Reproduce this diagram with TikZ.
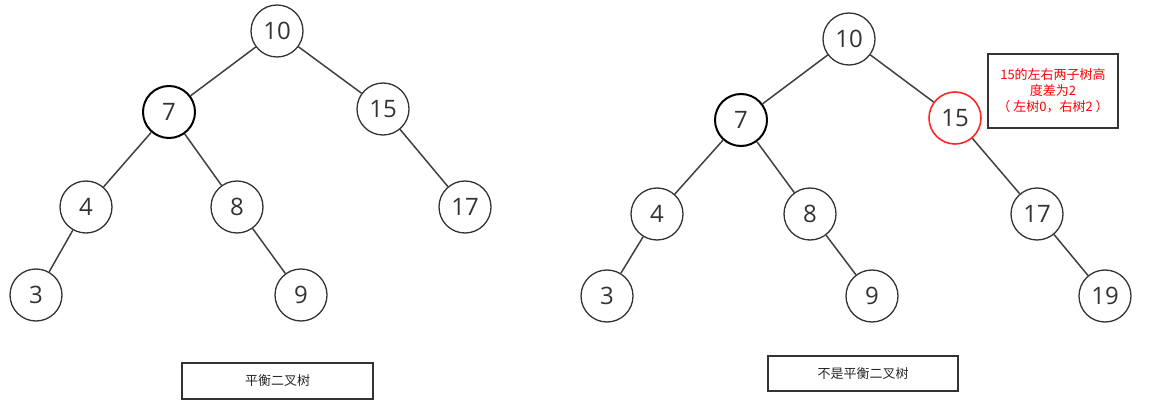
\documentclass[tikz,border=0pt]{standalone}
\usepackage{fontspec}
\setmainfont{Open Sans}
\newfontfamily\cjk{Noto Sans CJK SC}
\begin{document}
\begin{tikzpicture}[x=1pt,y=-1pt,
  nd/.style={circle,draw=black!80,line width=1.3pt,minimum size=52pt,inner sep=0pt,font=\fontsize{24}{27}\selectfont,text=black!80},
  thick nd/.style={nd,draw=black,line width=2pt},
  red nd/.style={nd,draw=red!85,line width=1.6pt},
  ed/.style={draw=black!75,line width=1.5pt},
  lbl/.style={draw=black!80,line width=1.6pt,font=\cjk\fontsize{13}{15}\selectfont,text=black!85,inner sep=0pt}]
\useasboundingbox (0,0) rectangle (1175,406);
% left tree
\node[nd] (a10) at (277,31) {10};
\node[thick nd] (a7) at (169,112) {7};
\node[nd] (a15) at (383,109) {15};
\node[nd] (a4) at (86,207) {4};
\node[nd] (a8) at (237,207) {8};
\node[nd] (a17) at (465,207) {17};
\node[nd] (a3) at (36,295) {3};
\node[nd] (a9) at (301,295) {9};
\draw[ed] (a10) -- (a7);
\draw[ed] (a10) -- (a15);
\draw[ed] (a7) -- (a4);
\draw[ed] (a7) -- (a8);
\draw[ed] (a15) -- (a17);
\draw[ed] (a4) -- (a3);
\draw[ed] (a8) -- (a9);
\node[lbl,minimum width=191pt,minimum height=36pt] (la) at (277.5,381) {平衡二叉树};
% right tree
\node[nd] (b10) at (849,39) {10};
\node[thick nd] (b7) at (741,120) {7};
\node[red nd] (b15) at (955,118) {15};
\node[nd] (b4) at (657,214) {4};
\node[nd] (b8) at (810,214) {8};
\node[nd] (b17) at (1037,214) {17};
\node[nd] (b3) at (607,296) {3};
\node[nd] (b9) at (872,296) {9};
\node[nd] (b19) at (1105,296) {19};
\draw[ed] (b10) -- (b7);
\draw[ed] (b10) -- (b15);
\draw[ed] (b7) -- (b4);
\draw[ed] (b7) -- (b8);
\draw[ed] (b15) -- (b17);
\draw[ed] (b4) -- (b3);
\draw[ed] (b8) -- (b9);
\draw[ed] (b17) -- (b19);
\node[lbl,minimum width=190pt,minimum height=35pt] (lb) at (863,373.5) {不是平衡二叉树};
\node[lbl,minimum width=130pt,minimum height=74pt,text=red,align=center,font=\cjk\fontsize{13}{16}\selectfont] (note) at (1053,91) {15的左右两子树高\\度差为2\\（ 左树0，右树2 ）};
\end{tikzpicture}
\end{document}
